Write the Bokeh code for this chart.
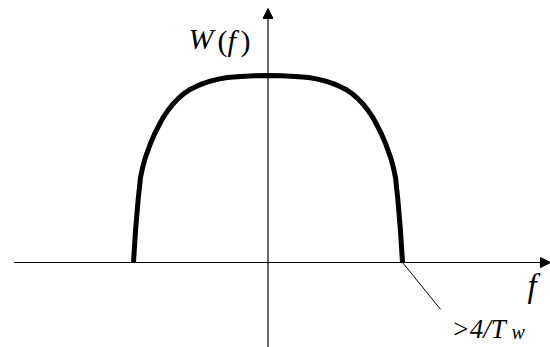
from bokeh.plotting import figure
from bokeh.models import Range1d, Arrow, NormalHead
from bokeh.core.properties import value
from bokeh.embed import file_html
from bokeh.resources import INLINE

# Curve data (f in units of the band edge, W normalised to plateau)
f_vals = [-1.0, -0.985, -0.965, -0.948, -0.93, -0.91, -0.874, -0.845, -0.81, -0.78, -0.747,
          -0.71, -0.67, -0.628, -0.58, -0.53, -0.48, -0.428, -0.36, -0.3, -0.205, -0.1, 0.0,
          0.1, 0.205, 0.3, 0.36, 0.428, 0.48, 0.53, 0.58, 0.628, 0.67, 0.71, 0.747, 0.78,
          0.81, 0.845, 0.874, 0.91, 0.93, 0.948, 0.965, 0.985, 1.0]
w_vals = [0.0, 0.17, 0.34, 0.455, 0.515, 0.565, 0.636, 0.685, 0.735, 0.775, 0.81,
          0.845, 0.875, 0.902, 0.925, 0.943, 0.958, 0.97, 0.982, 0.989, 0.995, 0.999, 1.0,
          0.999, 0.995, 0.989, 0.982, 0.97, 0.958, 0.943, 0.925, 0.902, 0.875, 0.845, 0.81, 0.775,
          0.735, 0.685, 0.636, 0.565, 0.515, 0.455, 0.34, 0.17, 0.0]

# Axis extents and leader line
x_axis_start = -1.889
x_axis_end = 2.10
y_axis_start = -0.46
y_axis_end = 1.358
leader_x = [1.0, 1.283]
leader_y = [0.0, -0.251]

W_, H_ = 550, 347
X0, XS = 267.5, 134.5   # page x of f=0, pixels per f unit
Y0, YS = 262.0, 187.0   # page y of W=0, pixels per W unit

p = figure(width=W_, height=H_, output_backend="svg", toolbar_location=None,
           x_range=Range1d((0 - X0) / XS, (W_ - X0) / XS),
           y_range=Range1d((Y0 - H_) / YS, Y0 / YS),
           min_border=0, outline_line_color=None)
p.axis.visible = False
p.grid.visible = False
p.background_fill_color = "white"
p.border_fill_color = "white"

# axes with arrows
p.add_layout(Arrow(end=NormalHead(size=10, fill_color="black", line_color="black", line_width=1),
                   x_start=x_axis_start, y_start=0, x_end=x_axis_end, y_end=0,
                   line_color="black", line_width=1.2))
p.add_layout(Arrow(end=NormalHead(size=10, fill_color="black", line_color="black", line_width=1),
                   x_start=0, y_start=y_axis_start, x_end=0, y_end=y_axis_end,
                   line_color="black", line_width=1.2))

# leader line
p.line(leader_x, leader_y, line_color="black", line_width=1)

# curve
p.line(f_vals, w_vals, line_color="black", line_width=5, line_join="round", line_cap="butt")

font = "Liberation Serif"
SHIFT = 9

def lab(text, px, py, size, style="italic"):
    py = py - SHIFT
    p.text(x=[(px - X0) / XS], y=[(Y0 - py) / YS], text=[text],
           text_font=value(font), text_font_size=f"{size}px",
           text_font_style=style, text_color="black",
           text_baseline="alphabetic", text_align="left")

# W(f)
lab("W", 188, 47, 30)
lab("(", 217, 49, 30, "normal")
lab("f", 227, 49, 30)
lab(")", 240, 49, 30, "normal")

# f axis label
lab("f", 527, 294, 33)

# >4/T_w
lab(">4/T", 451, 337, 27)
lab("w", 511, 340, 20)

open("out.html", "w").write(file_html(p, INLINE))
